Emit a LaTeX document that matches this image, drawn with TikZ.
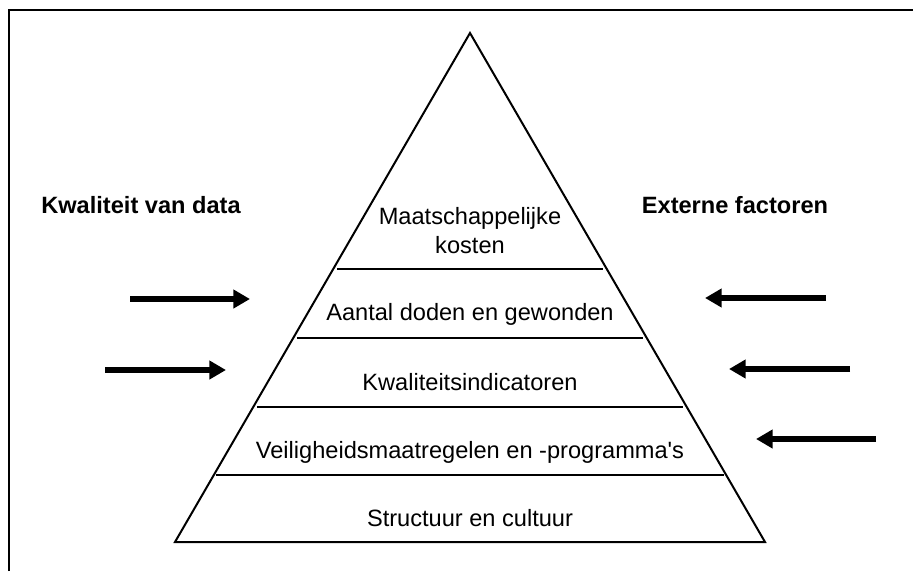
\documentclass[tikz,border=0pt]{standalone}
\usepackage{fontspec}
\setmainfont{Liberation Sans}
\usetikzlibrary{arrows.meta}

\begin{document}
\begin{tikzpicture}[x=0.75pt,y=-0.75pt,
  lvl/.style={anchor=base,font=\fontsize{17.7}{21.5}\selectfont,align=center,inner sep=0pt},
  kop/.style={anchor=base,font=\fontsize{17.7}{18}\selectfont\bfseries,inner sep=0pt},
  band/.style={line width=1.5pt},
  arr/.style={-{Triangle[length=12.5pt,width=13.5pt]},line width=4.5pt}
]
  \useasboundingbox (0,0) rectangle (913,571);
  % partial frame, top and left
  \draw[line width=1.5pt] (9,571) -- (9,10) -- (913,10);

  % pyramid
  \coordinate (top) at (470,33);
  \coordinate (bl) at (175,542);
  \coordinate (br) at (765,542);
  \draw[band,line join=miter] (top) -- (br) -- (bl) -- cycle;
  \draw[band] (337,269) -- (603,269);
  \draw[band] (297,338) -- (643,338);
  \draw[band] (257,407) -- (683,407);
  \draw[band] (216,475) -- (724,475);

  % levels
  \node[lvl] (kost) at (470,253) {Maatschappelijke\\kosten};
  \node[lvl] (dood) at (470,320) {Aantal doden en gewonden};
  \node[lvl] (kwal) at (470,390) {Kwaliteitsindicatoren};
  \node[lvl] (veil) at (470,458) {Veiligheidsmaatregelen en -programma\textquotesingle s};
  \node[lvl] (stru) at (470,526) {Structuur en cultuur};

  % side headings
  \node[kop] (data) at (141,213) {Kwaliteit van data};
  \node[kop] (ext) at (735,213) {Externe factoren};

  % arrows
  \coordinate (la1) at (130,299);  \coordinate (lb1) at (250,299);
  \coordinate (la2) at (105,370);  \coordinate (lb2) at (226,370);
  \coordinate (ra1) at (826,298);  \coordinate (rb1) at (705,298);
  \coordinate (ra2) at (850,369);  \coordinate (rb2) at (729,369);
  \coordinate (ra3) at (876,439);  \coordinate (rb3) at (756,439);
  \draw[arr] (la1) -- (lb1);
  \draw[arr] (la2) -- (lb2);
  \draw[arr] (ra1) -- (rb1);
  \draw[arr] (ra2) -- (rb2);
  \draw[arr] (ra3) -- (rb3);
\end{tikzpicture}
\end{document}
